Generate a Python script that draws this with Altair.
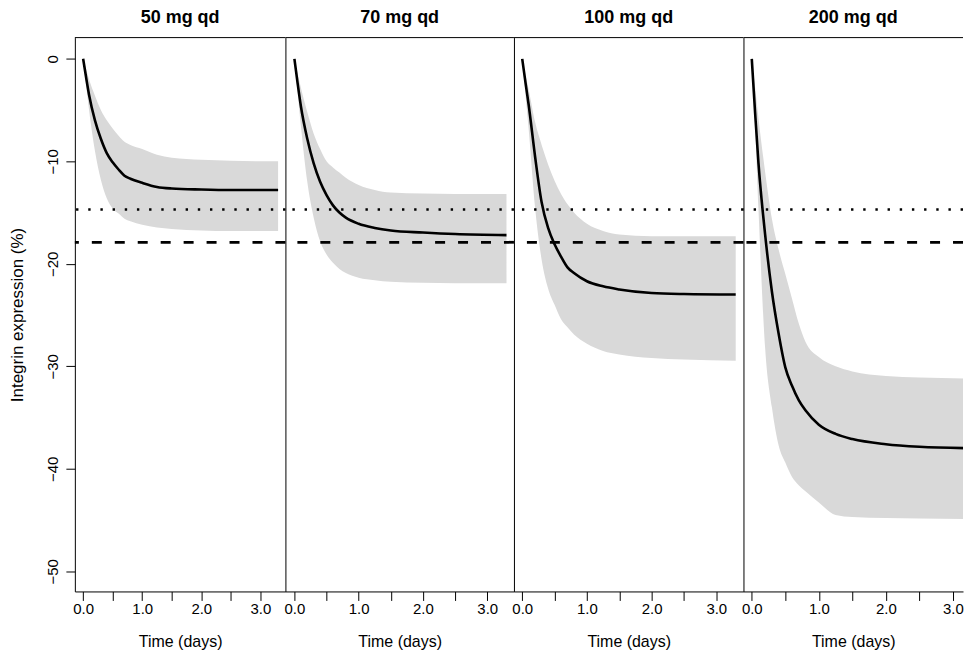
import altair as alt
import pandas as pd

FONT = "Liberation Sans"

# time grid (days)
TIME = [0, 0.05, 0.1, 0.2, 0.3, 0.4, 0.5, 0.6, 0.7, 0.8, 1.0, 1.25, 1.5, 2.0, 2.5, 3.3]

PANELS = ["50 mg qd", "70 mg qd", "100 mg qd", "200 mg qd"]

# median integrin expression change (%)
MED_50 = [0, -1.8, -3.5, -6.0, -7.8, -9.2, -10.1, -10.8, -11.4, -11.7, -12.1, -12.5, -12.65, -12.75, -12.8, -12.8]
MED_70 = [0, -2.4, -4.6, -7.8, -10.2, -12.0, -13.3, -14.3, -15.0, -15.5, -16.1, -16.5, -16.75, -16.95, -17.1, -17.2]
MED_100 = [0, -2.3, -4.5, -9.6, -14.0, -16.5, -18.1, -19.3, -20.35, -20.9, -21.7, -22.2, -22.5, -22.85, -22.95, -23.0]
MED_200 = [0, -5.3, -10.2, -17.2, -22.7, -26.8, -30.1, -31.9, -33.3, -34.3, -35.7, -36.6, -37.1, -37.6, -37.85, -38.0]

# upper edge of prediction band
HI_50 = [0, -1.0, -2.0, -3.6, -5.0, -6.0, -6.8, -7.5, -8.1, -8.4, -8.8, -9.35, -9.65, -9.85, -9.95, -10.0]
HI_70 = [0, -1.4, -2.8, -5.2, -7.3, -8.8, -10.0, -10.6, -11.1, -11.6, -12.3, -12.8, -13.05, -13.15, -13.2, -13.2]
HI_100 = [0, -1.5, -3.0, -6.2, -8.4, -10.3, -11.9, -13.2, -14.2, -15.0, -16.1, -16.8, -17.15, -17.3, -17.3, -17.3]
HI_200 = [0, -2.8, -5.8, -11.1, -15.6, -18.6, -21.0, -23.4, -25.8, -27.6, -29.1, -30.0, -30.5, -30.95, -31.1, -31.2]

# lower edge of prediction band
LO_50 = [0, -2.5, -5.0, -9.0, -11.8, -13.6, -14.6, -15.1, -15.6, -15.85, -16.2, -16.45, -16.6, -16.75, -16.8, -16.8]
LO_70 = [0, -3.3, -6.5, -12.0, -15.5, -17.8, -19.1, -19.9, -20.5, -20.9, -21.35, -21.6, -21.75, -21.85, -21.9, -21.9]
LO_100 = [0, -3.5, -6.9, -14.6, -19.6, -22.4, -24.0, -25.4, -26.2, -26.9, -27.8, -28.5, -28.85, -29.2, -29.35, -29.45]
LO_200 = [0, -6.5, -14.7, -28.3, -34.0, -37.7, -39.4, -40.8, -41.6, -42.2, -43.3, -44.5, -44.7, -44.8, -44.85, -44.9]

# reference levels
DOTTED_LEVEL = [-14.7]
DASHED_LEVEL = [-17.9]

X_TICKS = [0, 0.5, 1.0, 1.5, 2.0, 2.5, 3.0]
Y_TICKS = [0, -10, -20, -30, -40, -50]

YMIN, YMAX = -51.97, 2.07
HEIGHT = 555

MEDS = [MED_50, MED_70, MED_100, MED_200]
HIS = [HI_50, HI_70, HI_100, HI_200]
LOS = [LO_50, LO_70, LO_100, LO_200]
WIDTHS = [211, 229, 230, 220]
XMINS = [-0.14, -0.14, -0.128, -0.124]
XMAXS = [3.424, 3.416, 3.42, 3.15]


def panel(i):
    name = PANELS[i]
    w = WIDTHS[i]
    df = pd.DataFrame({"t": TIME, "med": MEDS[i], "lo": LOS[i], "hi": HIS[i]})
    xscale = alt.Scale(domain=[XMINS[i], XMAXS[i]], nice=False, zero=False)
    yscale = alt.Scale(domain=[YMIN, YMAX], nice=False, zero=False)
    xaxis = alt.Axis(
        values=X_TICKS,
        labelExpr="datum.value % 1 == 0 ? format(datum.value, '.1f') : ''",
        title="Time (days)",
        tickSize=9,
        labelPadding=1,
        titlePadding=17,
        labelFlush=False,
        labelOverlap=False,
        grid=False,
    )
    if i == 0:
        yaxis = alt.Axis(
            values=Y_TICKS,
            title="Integrin expression (%)",
            titleFontSize=17,
            labelAngle=-90,
            tickSize=9,
            labelPadding=5,
            titlePadding=19,
            grid=False,
        )
    else:
        yaxis = alt.Axis(labels=False, ticks=False, title=None, domain=True, grid=False)

    base = alt.Chart(df)
    band = base.mark_area(color="#d9d9d9", interpolate="monotone", clip=True).encode(
        x=alt.X("t:Q", scale=xscale, axis=xaxis),
        y=alt.Y("lo:Q", scale=yscale, axis=yaxis),
        y2="hi:Q",
    )
    line = base.mark_line(color="black", strokeWidth=2.6, interpolate="monotone", clip=True).encode(
        x=alt.X("t:Q", scale=xscale, axis=xaxis),
        y=alt.Y("med:Q", scale=yscale, axis=yaxis),
    )
    dotted = alt.Chart(pd.DataFrame({"lo": DOTTED_LEVEL})).mark_rule(
        color="black", strokeWidth=2.4, strokeDash=[2.4, 9.8]
    ).encode(y=alt.Y("lo:Q", scale=yscale, axis=yaxis))
    dashed = alt.Chart(pd.DataFrame({"lo": DASHED_LEVEL})).mark_rule(
        color="black", strokeWidth=2.8, strokeDash=[10, 13]
    ).encode(y=alt.Y("lo:Q", scale=yscale, axis=yaxis))
    top = alt.Chart(pd.DataFrame({"a": [0]})).mark_rule(color="black", strokeWidth=1).encode(
        x=alt.value(0), x2=alt.value(w), y=alt.value(0)
    )
    return alt.layer(band, line, dotted, dashed, top).properties(
        width=w,
        height=HEIGHT,
        title=alt.Title(
            name,
            fontSize=18,
            fontWeight="bold",
            font=FONT,
            color="black",
            baseline="alphabetic",
            offset=-4,
            anchor="middle",
        ),
    )


chart = (
    alt.hconcat(*[panel(i) for i in range(4)], spacing=0, bounds="flush")
    .properties(padding={"left": 1, "top": 0, "right": 0, "bottom": 0})
    .configure_view(stroke=None)
    .configure_axis(
        labelFont=FONT,
        titleFont=FONT,
        labelFontSize=15,
        titleFontSize=16,
        titleFontWeight="normal",
        labelColor="black",
        titleColor="black",
        tickColor="black",
        domainColor="black",
        tickWidth=1,
        domainWidth=1,
    )
)

chart.save("out.html", embed_options={"renderer": "svg", "actions": False})
